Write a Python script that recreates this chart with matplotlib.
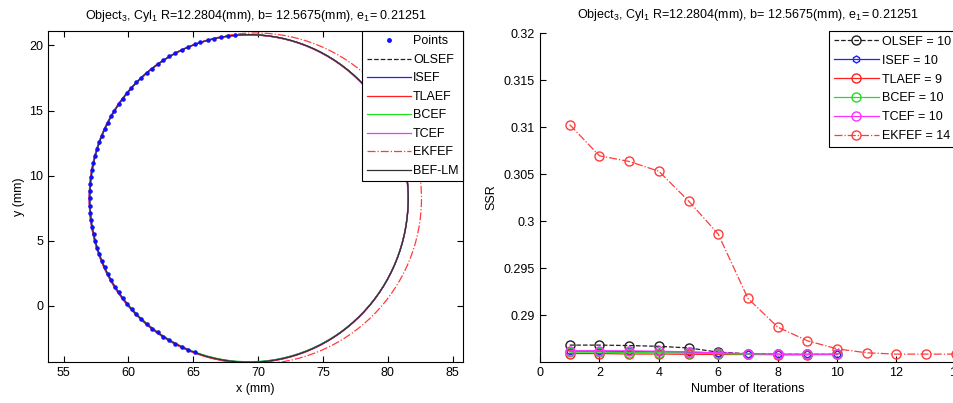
import matplotlib
matplotlib.use('Agg')
import matplotlib.pyplot as plt
from matplotlib.patches import Ellipse
from matplotlib.lines import Line2D

plt.rcParams['font.family'] = ['Liberation Sans', 'DejaVu Sans']
plt.rcParams['mathtext.default'] = 'regular'
plt.rcParams['font.size'] = 9

# measured edge points (mm)
pts_x = [68.23, 67.65, 67.17, 66.60, 66.12, 65.55, 65.10, 64.62, 64.11, 63.60, 63.16,
         62.70, 62.26, 61.80, 61.41, 61.00, 60.62, 60.22, 59.89, 59.55, 59.24, 58.92,
         58.67, 58.40, 58.17, 57.95, 57.76, 57.60, 57.44, 57.30, 57.21, 57.12, 57.07,
         57.03, 57.02, 57.04, 57.07, 57.14, 57.21, 57.33, 57.44, 57.60, 57.76, 57.95,
         58.17, 58.40, 58.67, 58.95, 59.24, 59.55, 59.89, 60.25, 60.62, 61.00, 61.41,
         61.85, 62.26, 62.70, 63.16, 63.62, 64.11, 64.60, 65.10]
pts_y = [20.80, 20.70, 20.66, 20.50, 20.41, 20.22, 20.08, 19.86, 19.66, 19.40, 19.16,
         18.84, 18.57, 18.22, 17.90, 17.52, 17.16, 16.74, 16.35, 15.90, 15.48, 15.00,
         14.56, 14.05, 13.58, 13.05, 12.57, 12.02, 11.52, 10.96, 10.45, 9.88, 9.37,
         8.80, 8.27, 7.70, 7.17, 6.62, 6.09, 5.52, 5.02, 4.48, 3.97, 3.45, 2.96, 2.44,
         1.98, 1.48, 1.06, 0.60, 0.19, -0.25, -0.62, -1.02, -1.36, -1.74, -2.03, -2.36,
         -2.62, -2.90, -3.12, -3.36, -3.54]

# fitted ellipses: name, centre x, centre y, semi-axis x, semi-axis y
fit_names = ['OLSEF', 'ISEF', 'TLAEF', 'BCEF', 'TCEF', 'EKFEF', 'BEF-LM']
fit_cx = [69.30, 69.28, 69.27, 69.31, 69.29, 69.80, 69.30]
fit_cy = [8.25, 8.26, 8.22, 8.27, 8.24, 8.25, 8.25]
fit_a = [12.28, 12.30, 12.29, 12.27, 12.29, 12.80, 12.28]
fit_b = [12.57, 12.56, 12.58, 12.55, 12.57, 12.70, 12.57]
fit_col = ['#202020', '#2020ff', '#ff2020', '#20e020', '#ff30ff', '#ff3c3c', '#303030']
fit_ls = ['--', '-', '-', '-', '-', '-.', '-']

# SSR per iteration
ssr_names = ['OLSEF = 10', 'ISEF = 10', 'TLAEF = 9', 'BCEF = 10', 'TCEF = 10', 'EKFEF = 14']
olsef = [0.28680, 0.28680, 0.28675, 0.28667, 0.28650, 0.28605, 0.28588, 0.28582, 0.28582, 0.28582]
isef = [0.28615, 0.28615, 0.28612, 0.28610, 0.28605, 0.28595, 0.28585, 0.28580, 0.28580, 0.28580]
tlaef = [0.28590, 0.28590, 0.28585, 0.28585, 0.28582, 0.28580, 0.28580, 0.28578, 0.28578]
bcef = [0.28605, 0.28605, 0.28600, 0.28598, 0.28595, 0.28590, 0.28583, 0.28580, 0.28580, 0.28580]
tcef = [0.28620, 0.28620, 0.28618, 0.28615, 0.28608, 0.28598, 0.28588, 0.28582, 0.28582, 0.28582]
ekfef = [0.31026, 0.30694, 0.30634, 0.30530, 0.30214, 0.29861, 0.29177, 0.28872,
         0.28726, 0.28640, 0.28598, 0.28584, 0.28584, 0.28584]

title = 'Object$_3$, Cyl$_1$ R=12.2804(mm), b= 12.5675(mm), e$_1$= 0.21251'

fig = plt.figure(figsize=(9.54, 4.03), dpi=100)

# ---- left panel
ax1 = fig.add_axes([0.0503, 0.1017, 0.435, 0.8213])
ax1.plot(pts_x, pts_y, '.', color='#1010ff', markersize=4.5, zorder=3)
for i in range(len(fit_names)):
    e = Ellipse((fit_cx[i], fit_cy[i]), 2 * fit_a[i], 2 * fit_b[i], fill=False,
                edgecolor=fit_col[i], linestyle=fit_ls[i], linewidth=0.9, zorder=2)
    ax1.add_patch(e)
ax1.set_xlim(53.8, 85.8)
ax1.set_ylim(-4.3, 21.1)
ax1.set_xticks([55, 60, 65, 70, 75, 80, 85])
ax1.set_yticks([0, 5, 10, 15, 20])
ax1.tick_params(direction='in', top=True, right=True, length=4, labelsize=9)
ax1.set_xlabel('x (mm)', fontsize=9, labelpad=3)
ax1.set_ylabel('y (mm)', fontsize=9, labelpad=3)
ax1.set_title(title, fontsize=9, pad=9)

handles = [Line2D([], [], linestyle='none', marker='.', color='#1010ff', markersize=5)]
for i in range(len(fit_names)):
    handles.append(Line2D([], [], color=fit_col[i], linestyle=fit_ls[i], linewidth=0.9))
leg1 = ax1.legend(handles, ['Points'] + fit_names, loc='upper right', borderaxespad=0,
                  fancybox=False, edgecolor='black', framealpha=1, fontsize=9,
                  handlelength=3.5, labelspacing=0.52, borderpad=0.35, handletextpad=0.2)
leg1.get_frame().set_linewidth(0.8)
leg1.set_zorder(5)

# ---- right panel
ax2 = fig.add_axes([0.566, 0.1017, 0.436, 0.8163])
series = [olsef, isef, tlaef, bcef, tcef, ekfef]
cols = ['#202020', '#2020ff', '#ff2020', '#20e020', '#ff30ff', '#ff3c3c']
styles = ['--', '-', '-', '-', '-', '-.']
marks = ['o', 'h', 'o', 'o', 'o', 'o']
order = [0, 3, 2, 4, 1, 5]
for i in order:
    it = list(range(1, len(series[i]) + 1))
    ax2.plot(it, series[i], linestyle=styles[i], color=cols[i], marker=marks[i],
             markerfacecolor='none', markersize=6.5 if marks[i] == 'o' else 5,
             linewidth=0.9, label=ssr_names[i], zorder=2 + i * 0.1)
h, l = ax2.get_legend_handles_labels()
lookup = dict(zip(l, h))
leg2 = ax2.legend([lookup[n] for n in ssr_names], ssr_names, loc='upper right',
                  bbox_to_anchor=(1.0, 1.005), borderaxespad=0, fancybox=False,
                  edgecolor='black', framealpha=1, fontsize=9, handlelength=3.6,
                  labelspacing=0.55, borderpad=0.35, handletextpad=0.3)
leg2.get_frame().set_linewidth(0.8)
ax2.set_xlim(0, 14)
ax2.set_ylim(0.285, 0.32)
ax2.set_xticks([0, 2, 4, 6, 8, 10, 12, 14])
ax2.set_yticks([0.29, 0.295, 0.30, 0.305, 0.31, 0.315, 0.32])
ax2.set_yticklabels(['0.29', '0.295', '0.3', '0.305', '0.31', '0.315', '0.32'])
ax2.spines['top'].set_visible(False)
ax2.spines['right'].set_visible(False)
ax2.tick_params(direction='in', length=4, labelsize=9)
ax2.set_xlabel('Number of Iterations', fontsize=9, labelpad=3)
ax2.set_ylabel('SSR', fontsize=9, labelpad=5)
ax2.set_title(title, fontsize=9, pad=11)

fig.savefig('out.png', dpi=100)
